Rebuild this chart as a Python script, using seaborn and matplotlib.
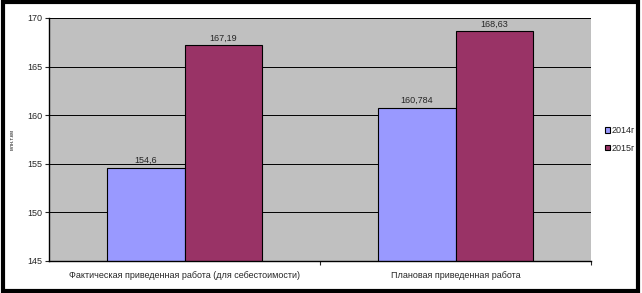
import matplotlib
matplotlib.use("Agg")
import matplotlib.pyplot as plt
import seaborn as sns
import pandas as pd
from matplotlib.patches import Rectangle

categories = ["Фактическая приведенная работа (для себестоимости)", "Плановая приведенная работа"]
series = ["2014г", "2015г"]
values_2014 = [154.6, 160.784]
values_2015 = [167.19, 168.63]
labels_2014 = ["154,6", "160,784"]
labels_2015 = ["167,19", "168,63"]
y_ticks = [145, 150, 155, 160, 165, 170]
y_label = "млн.т.км"

df = pd.DataFrame({
    "cat": categories * 2,
    "year": [series[0]] * 2 + [series[1]] * 2,
    "val": values_2014 + values_2015,
})

sns.set_style("white")
plt.rcParams['font.family'] = ['Liberation Sans', 'DejaVu Sans']

fig = plt.figure(figsize=(6.42, 2.93), dpi=100)
ax = fig.add_axes([49/642, 1-261/293, 542/642, 243/293])
ax.set_facecolor("#C0C0C0")
ax.set_axisbelow(True)
ax.yaxis.grid(True, color="black", linewidth=0.7)

sns.barplot(data=df, x="cat", y="val", hue="year", hue_order=series, order=categories,
            palette=["#9999FF", "#993366"], width=0.57, edgecolor="black", linewidth=0.8,
            saturation=1, ax=ax, legend=True)

ax.set_ylim(145, 170)
ax.set_yticks(y_ticks)
ax.set_xlim(-0.5, 1.5)
ax.tick_params(axis="y", labelsize=6.5, length=3, width=0.8, direction="out", left=True, pad=2)
ax.tick_params(axis="x", which="major", labelsize=6.5, length=0, pad=7)
ax.set_xticks([0.5, 1.5], minor=True)
ax.tick_params(axis="x", which="minor", length=3, width=0.8, direction="out", bottom=True)
ax.set_xlabel("")
ax.set_ylabel(y_label, fontsize=4, labelpad=9)
for s in ["top", "right"]:
    ax.spines[s].set_visible(False)
for s in ["left", "bottom"]:
    ax.spines[s].set_color("black")
    ax.spines[s].set_linewidth(1)

for cont, labs in zip(ax.containers, [labels_2014, labels_2015]):
    ax.bar_label(cont, labels=labs, fontsize=6.5, padding=2)

h, l = ax.get_legend_handles_labels()
ax.legend(h, l, loc="center left", bbox_to_anchor=(1.015, 0.5), frameon=False, fontsize=6.5,
          handlelength=0.6, handleheight=0.6, handletextpad=0.2, labelspacing=0.9,
          borderpad=0.3, borderaxespad=0.3)

fig.patches.append(Rectangle((0.004, 0.007), 0.99, 0.985, transform=fig.transFigure,
                             fill=False, edgecolor="black", linewidth=3))

fig.savefig("out.png", dpi=100)
